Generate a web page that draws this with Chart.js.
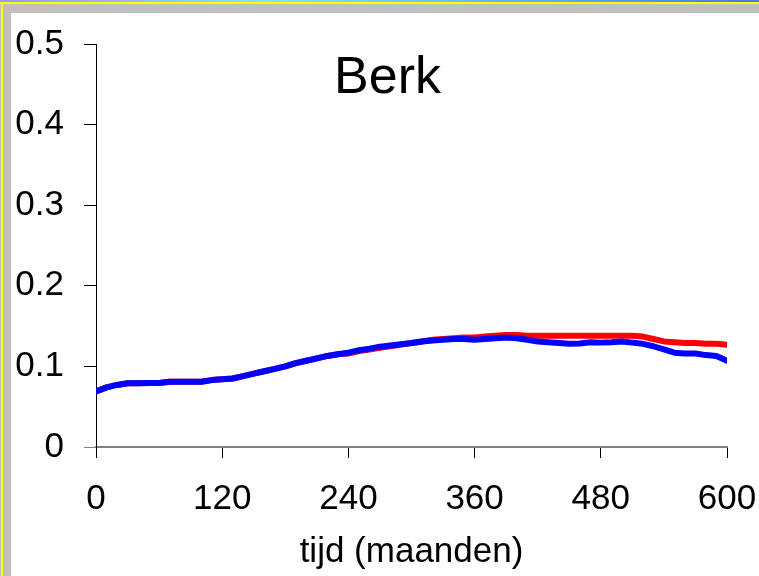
<!DOCTYPE html>
<html>
<head>
<meta charset="utf-8">
<script src="https://cdn.jsdelivr.net/npm/chart.js@4"></script>
<style>
  html, body { margin: 0; padding: 0; background: #fff; }
  canvas { display: block; }
</style>
</head>
<body>
<canvas id="berkChart" width="759" height="576"></canvas>
<script>
// months (tijd in maanden), sampled every 10 months
const months = [0, 10, 20, 30, 40, 50, 60, 70, 80, 90, 100, 110, 120, 130, 140, 150, 160, 170, 180, 190,
  200, 210, 220, 230, 240, 250, 260, 270, 280, 290, 300, 310, 320, 330, 340, 350, 360, 370, 380, 390,
  400, 410, 420, 430, 440, 450, 460, 470, 480, 490, 500, 510, 520, 530, 540, 550, 560, 570, 580, 590, 600];

const blueValues = [0.069, 0.074, 0.077, 0.079, 0.079, 0.0795, 0.0795, 0.081, 0.081, 0.081, 0.081, 0.083, 0.084, 0.085, 0.088, 0.091, 0.094, 0.097, 0.100, 0.104,
  0.107, 0.110, 0.113, 0.115, 0.117, 0.120, 0.122, 0.1245, 0.126, 0.1275, 0.129, 0.131, 0.132, 0.133, 0.134, 0.134, 0.133, 0.134, 0.135, 0.136,
  0.135, 0.133, 0.131, 0.130, 0.129, 0.128, 0.1285, 0.130, 0.1295, 0.130, 0.131, 0.1295, 0.128, 0.125, 0.121, 0.117, 0.116, 0.116, 0.114, 0.113, 0.107];

const redValues = [0.069, 0.074, 0.077, 0.079, 0.079, 0.0795, 0.0795, 0.081, 0.081, 0.081, 0.081, 0.083, 0.084, 0.085, 0.088, 0.091, 0.094, 0.097, 0.100, 0.104,
  0.107, 0.110, 0.113, 0.115, 0.116, 0.119, 0.121, 0.123, 0.125, 0.127, 0.129, 0.131, 0.133, 0.134, 0.135, 0.136, 0.136, 0.137, 0.138, 0.139,
  0.139, 0.138, 0.138, 0.138, 0.138, 0.138, 0.138, 0.138, 0.138, 0.138, 0.138, 0.138, 0.137, 0.134, 0.131, 0.130, 0.129, 0.129, 0.128, 0.128, 0.127];

const xTicks = [0, 120, 240, 360, 480, 600];
const yTicks = [0, 0.1, 0.2, 0.3, 0.4, 0.5];

const fontFamily = '"Liberation Sans", Arial, Helvetica, sans-serif';

function toPoints(values) {
  return months.map((m, i) => ({ x: m, y: values[i] }));
}

// slide-style frame + white background, and the "Berk" title inside the plot
const framePlugin = {
  id: 'frame',
  beforeDraw(chart) {
    const ctx = chart.ctx;
    const w = chart.width, h = chart.height;
    ctx.save();
    ctx.fillStyle = '#ffffff';
    ctx.fillRect(0, 0, w, h);
    ctx.fillStyle = '#c0c0c0';
    ctx.fillRect(0, 0, w, 13);
    ctx.fillRect(0, 0, 11, h);
    ctx.fillStyle = '#ffff00';
    ctx.fillRect(0, 2, w, 2);
    ctx.fillRect(1, 2, 2, h);
    const g = ctx.createLinearGradient(0, 0, w, 0);
    g.addColorStop(0, '#9a9af0');
    g.addColorStop(0.35, '#8ee0f8');
    g.addColorStop(1, '#4a78e8');
    ctx.fillStyle = g;
    ctx.fillRect(0, 0, w, 2);
    ctx.restore();
  },
  afterDraw(chart) {
    const ctx = chart.ctx;
    const a = chart.chartArea;
    ctx.save();
    ctx.fillStyle = '#000';
    ctx.font = '52px ' + fontFamily;
    ctx.textAlign = 'center';
    ctx.textBaseline = 'alphabetic';
    ctx.fillText('Berk', a.left + (a.right - a.left) * 0.462, a.top + 49);
    ctx.restore();
  }
};

const ctx = document.getElementById('berkChart').getContext('2d');
new Chart(ctx, {
  type: 'line',
  data: {
    datasets: [{
      label: 'blauw',
      data: toPoints(blueValues),
      borderColor: '#0000ff',
      borderWidth: 6,
      pointRadius: 0,
      borderCapStyle: 'round',
      borderJoinStyle: 'round',
      tension: 0
    }, {
      label: 'rood',
      data: toPoints(redValues),
      borderColor: '#ff0000',
      borderWidth: 6,
      pointRadius: 0,
      borderCapStyle: 'round',
      borderJoinStyle: 'round',
      tension: 0
    }]
  },
  options: {
    responsive: false,
    animation: false,
    layout: { padding: { top: 44, right: 32, left: 0, bottom: 0 } },
    plugins: {
      legend: { display: false },
      tooltip: { enabled: false }
    },
    scales: {
      x: {
        type: 'linear',
        min: 0,
        max: 600,
        afterBuildTicks(scale) { scale.ticks = xTicks.map(v => ({ value: v })); },
        afterFit(scale) {
          scale.height = 129;
          scale.paddingLeft = 0;
          scale.paddingRight = 0;
        },
        border: { display: true, color: '#808080', width: 2 },
        grid: { drawOnChartArea: false, drawTicks: true, tickLength: 11, tickColor: '#000000' },
        ticks: {
          color: '#000',
          font: { family: fontFamily, size: 35 },
          padding: 20,
          maxRotation: 0
        },
        title: {
          display: true,
          text: 'tijd (maanden)',
          color: '#000',
          font: { family: fontFamily, size: 35 },
          padding: { top: 0, bottom: 3 }
        }
      },
      y: {
        min: 0,
        max: 0.5,
        afterBuildTicks(scale) { scale.ticks = yTicks.map(v => ({ value: v })); },
        afterFit(scale) {
          scale.width = 96;
          scale.paddingTop = 0;
          scale.paddingBottom = 0;
        },
        border: { display: true, color: '#000000', width: 1 },
        grid: {
          drawOnChartArea: false,
          drawTicks: true,
          tickLength: 12,
          tickColor: c => (c.tick && c.tick.value === 0 ? '#808080' : '#000000')
        },
        ticks: {
          color: '#000',
          font: { family: fontFamily, size: 35 },
          padding: 20,
          callback: v => String(Math.round(v * 10) / 10)
        }
      }
    }
  },
  plugins: [framePlugin]
});
</script>
</body>
</html>
